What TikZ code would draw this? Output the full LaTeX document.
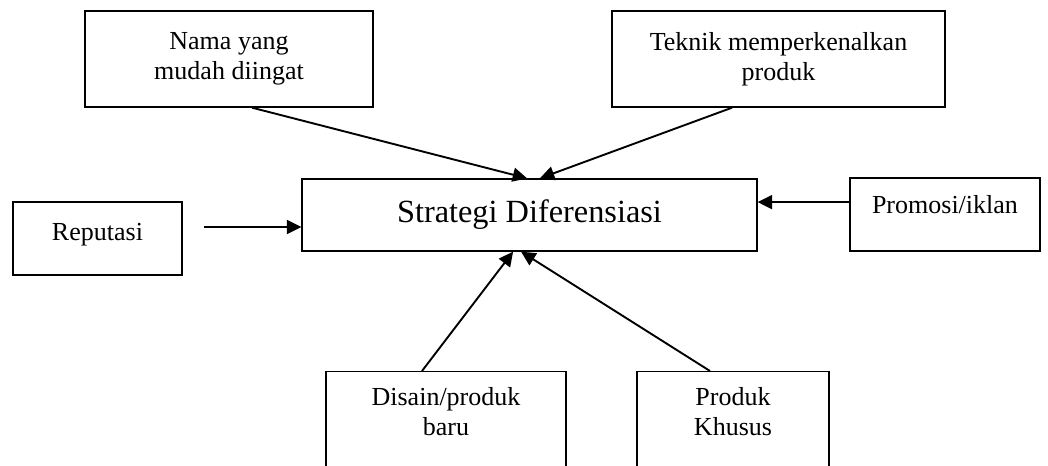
\documentclass[tikz,border=0pt]{standalone}
\usepackage{fontspec}
\setmainfont{Liberation Serif}
\usetikzlibrary{arrows.meta, positioning}

\begin{document}
\begin{tikzpicture}[
  box/.style={draw, line width=0.95pt, align=center, inner sep=0pt, font=\fontsize{18.5}{21}\selectfont},
  openbox/.style={box, anchor=north, inner ysep=0.4cm, text depth=3cm},
  bigbox/.style={box, font=\fontsize{23}{27}\selectfont},
  infl/.style={-{Triangle[length=3.6mm, width=3.5mm]}, line width=1.35pt}
]
\useasboundingbox (0,0) rectangle (26.2,11.625);
\clip (0,0) rectangle (26.2,11.625);

\node[bigbox, minimum width=11.375cm, minimum height=1.8cm] (strat) at (13.2375,6.25) {Strategi Diferensiasi};

\node[box, minimum width=7.2cm, minimum height=2.4cm] (nama) at (5.725,10.15) {Nama yang\\mudah diingat};
\node[box, minimum width=8.325cm, minimum height=2.4cm] (teknik) at (19.4625,10.15) {Teknik memperkenalkan\\produk};
\node[box, minimum width=4.225cm, minimum height=1.825cm, text depth=0.35cm] (rep) at (2.4375,5.6625) {Reputasi};
\node[box, minimum width=4.75cm, minimum height=1.825cm, text depth=0.52cm] (promo) at (23.625,6.2625) {Promosi/iklan};
% bottom boxes run off the page
\node[openbox, minimum width=6cm] (disain) at (11.15,2.35) {Disain/produk\\baru};
\node[openbox, minimum width=4.8cm] (khusus) at (18.325,2.35) {Produk\\Khusus};

\draw[infl] ([xshift=0.575cm]nama.south) -- ([xshift=-0.06cm]strat.north);
\draw[infl] ([xshift=-1.16cm]teknik.south) -- ([xshift=0.26cm]strat.north);
\coordinate (repgap) at (5.1,5.95);
\draw[infl] (repgap) -- (repgap -| strat.west);
\draw[infl] ([yshift=0.31cm]promo.west) -- ([yshift=0.31cm]promo.west -| strat.east);
\draw[infl] ([xshift=-0.6cm]disain.north) -- ([xshift=-0.41cm]strat.south);
\draw[infl] ([xshift=-0.575cm]khusus.north) -- ([xshift=-0.21cm]strat.south);
\end{tikzpicture}
\end{document}
